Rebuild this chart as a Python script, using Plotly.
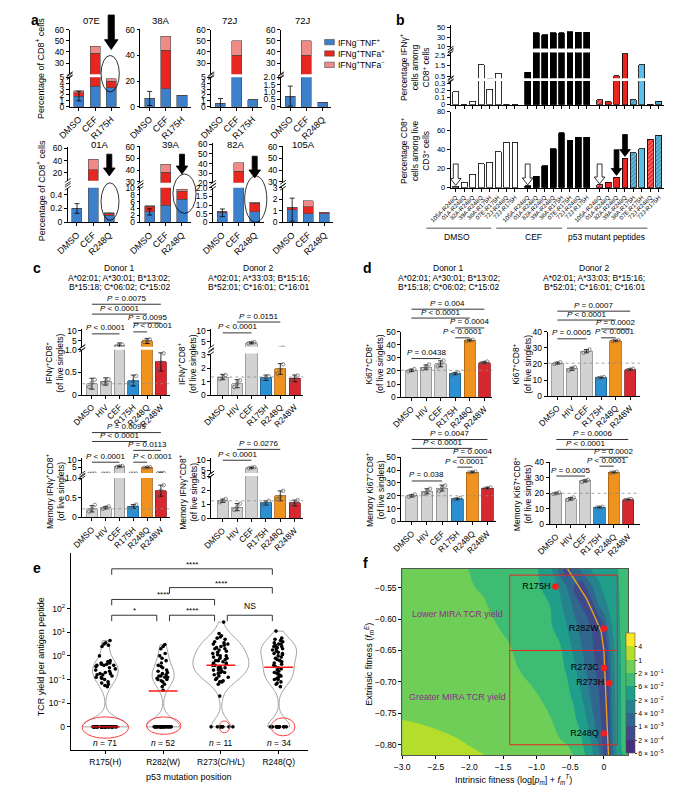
import math
import plotly.graph_objects as go

W, H = 685, 786
FONT = "Liberation Sans, Arial, Helvetica, sans-serif"

# ============================ DATA ============================
# ---- panel a : percentage of CD8+ cells, stacked by cytokine profile ----
a_titles = ["07E", "38A", "72J", "72J", "01A", "39A", "82A", "105A"]
a_cats = [["DMSO", "CEF", "R175H"]] * 3 + [["DMSO", "CEF", "R248Q"]] * 5
a_ifng_neg_tnf_pos = [[1.8, 3.5, 3.2], [6.5, 14, 9], [0.6, 6, 1.2], [0.72, 3, 0.32],
                      [0.2, 3, 0.1], [3.0, 5.0, 6.7], [0.55, 5, 0.6], [1.1, 0.75, 0.75]]
a_ifng_pos_tnf_pos = [[0.6, 35.5, 1.1], [0, 30, 0], [0, 31, 0], [0, 34, 0],
                      [0, 22, 0.03], [1.6, 33, 2.3], [0.05, 27, 0.5], [0.15, 0.6, 0.07]]
a_ifng_pos_tnf_neg = [[0.3, 6, 0.4], [0, 11, 0], [0, 13, 0], [0, 13, 0],
                      [0, 17, 0.01], [0.2, 7, 0.6], [0.02, 9, 0.05], [0.05, 0.5, 0.05]]
a_dmso_err = [0.8, 5.5, 0.8, 0.68, 0.07, 0.9, 0.22, 1.0]
a_legend = ["IFNg<sup>−</sup>TNF<sup>+</sup>", "IFNg<sup>+</sup>TNFa<sup>+</sup>",
            "IFNg<sup>+</sup>TNFa<sup>−</sup>"]

# ---- panel b ----
b_labels = ["105A-R248Q", "01A-R248Q", "82A-R248Q", "39A-R248Q",
            "38A-R175H", "07E-R175H", "72J-R248Q", "72J-R175H"]
b_groups = ["DMSO", "CEF", "p53 mutant peptides"]
b_ifng_dmso = [0.18, 0.0, 0.05, 1.6, 0.22, 0.8, 0.005, 0.005]
b_ifng_cef = [0.9, 40, 35, 40, 40, 42, 41, 41]
b_ifng_p53 = [0.07, 0.04, 0.55, 2.7, 0.07, 1.6, 0.005, 0.05]
b_cd8_dmso = [1.5, 6, 14, 25, 27, 38, 48, 48]
b_cd8_cef = [2, 12, 23, 41, 58, 50, 53, 53]
b_cd8_p53 = [3, 6, 11, 31, 37, 41, 51, 55]
b_p53_colors = ["#e8251f", "#e8251f", "#e8251f", "#e8251f", "#5bbfea", "#5bbfea", "#e8251f", "#5bbfea"]
b_p53_hatched = [1, 0, 0, 0, 1, 0, 1, 1]

# ---- panels c, d ----
c_cats = ["DMSO", "HIV", "CEF", "R175H", "R248Q", "R248W"]
c_d1_ifng_mean = [0.25, 0.3, 2.7, 0.32, 4.9, 0.73]
c_d1_ifng_sd = [0.12, 0.08, 1.2, 0.12, 1.3, 0.2]
c_d1_ifng_pts = [[0.18, 0.27, 0.34], [0.26, 0.3, 0.35], [2.3, 2.6, 3.0], [0.25, 0.3, 0.42], [4.4, 5.0, 5.6], [0.55, 0.72, 0.92]]
c_d2_ifng_mean = [1.35, 0.85, 4.5, 1.3, 1.95, 1.25]
c_d2_ifng_sd = [0.2, 0.3, 0.4, 0.2, 0.4, 0.25]
c_d2_ifng_pts = [[1.2, 1.35, 1.5], [0.6, 0.85, 1.1], [4.2, 4.5, 4.8], [1.2, 1.3, 1.4], [1.6, 1.9, 2.3], [1.05, 1.25, 1.45]]
c_d1_mem_mean = [0.22, 0.25, 5.5, 0.28, 4.8, 0.68]
c_d1_mem_sd = [0.08, 0.03, 0.4, 0.05, 0.3, 0.14]
c_d1_mem_pts = [[0.15, 0.22, 0.32], [0.22, 0.25, 0.28], [5.2, 5.5, 5.8], [0.24, 0.28, 0.33], [4.6, 4.8, 5.0], [0.55, 0.68, 0.82]]
c_d2_mem_mean = [1.25, 0.8, 6.2, 1.1, 1.6, 1.1]
c_d2_mem_sd = [0.12, 0.25, 0.3, 0.15, 0.35, 0.2]
c_d2_mem_pts = [[1.15, 1.25, 1.38], [0.6, 0.8, 1.05], [5.9, 6.2, 6.5], [0.95, 1.1, 1.25], [1.35, 1.55, 1.95], [0.95, 1.1, 1.3]]
d_d1_ki67_mean = [20.5, 23, 25.5, 18, 43.5, 26.5]
d_d1_ki67_sd = [0.9, 1.7, 2.3, 0.8, 0.5, 0.6]
d_d1_ki67_pts = [[19.8, 20.5, 21.5], [21.5, 23, 25], [23.5, 25.5, 28], [17.2, 18, 18.8], [43, 43.5, 44], [26, 26.5, 27.2]]
d_d2_ki67_mean = [20.5, 17, 28, 11.5, 34.5, 16.5]
d_d2_ki67_sd = [0.5, 1.0, 1.0, 0.3, 0.3, 0.5]
d_d2_ki67_pts = [[20, 20.5, 21], [16, 17, 18], [27, 28, 29], [11.2, 11.5, 11.8], [34.2, 34.5, 34.8], [16, 16.5, 17]]
d_d1_mem_mean = [20, 23.5, 26, 17.5, 38.5, 26]
d_d1_mem_sd = [0.9, 2.0, 2.3, 0.6, 0.3, 0.5]
d_d1_mem_pts = [[19.3, 20, 21], [21.5, 23.5, 25.5], [23.5, 26, 28], [17, 17.5, 18.2], [38.2, 38.5, 38.8], [25.5, 26, 26.5]]
d_d2_mem_mean = [20, 16.5, 28, 11, 33.5, 16]
d_d2_mem_sd = [0.4, 0.8, 0.7, 0.3, 0.3, 0.3]
d_d2_mem_pts = [[19.6, 20, 20.5], [15.8, 16.5, 17.3], [27.3, 28, 28.6], [10.8, 11, 11.3], [33.2, 33.5, 33.8], [15.7, 16, 16.3]]
# comparisons: (group i, group j, P text)
c_d1_ifng_p = [(0, 5, "= 0.0075"), (0, 4, "< 0.0001"), (3, 5, "= 0.0095"), (0, 2, "< 0.0001"), (3, 4, "< 0.0001")]
c_d2_ifng_p = [(1, 4, "= 0.0151"), (0, 2, "< 0.0001")]
c_d1_mem_p = [(0, 5, "= 0.0099"), (0, 4, "< 0.0001"), (3, 5, "= 0.0113"), (0, 2, "< 0.0001"), (3, 4, "< 0.0001")]
c_d2_mem_p = [(1, 4, "= 0.0276"), (0, 2, "< 0.0001")]
d_d1_ki67_p = [(0, 5, "= 0.004"), (0, 4, "< 0.0001"), (3, 5, "= 0.0004"), (3, 4, "< 0.0001"), (0, 2, "= 0.0438")]
d_d2_ki67_p = [(0, 5, "= 0.0007"), (0, 4, "< 0.0001"), (3, 5, "= 0.0002"), (0, 2, "= 0.0005"), (3, 4, "< 0.0001")]
d_d1_mem_p = [(0, 5, "= 0.0047"), (0, 4, "< 0.0001"), (3, 5, "= 0.0004"), (3, 4, "< 0.0001"), (0, 2, "= 0.038")]
d_d2_mem_p = [(0, 5, "= 0.0006"), (0, 4, "< 0.0001"), (3, 5, "= 0.0002"), (3, 4, "< 0.0001"), (0, 2, "= 0.0005")]
donor_hla = {"Donor 1": ["A*02:01; A*30:01; B*13:02;", "B*15:18; C*06:02; C*15:02"],
             "Donor 2": ["A*02:01; A*33:03; B*15:16;", "B*52:01; C*16:01; C*16:01"]}

# ---- panel e : TCR yield per antigen peptide (log10 of nonzero values; zeros counted) ----
e_cats = ["R175(H)", "R282(W)", "R273(C/H/L)", "R248(Q)"]
e_n = [71, 52, 11, 34]
e_log_r175 = [0.65, 0.55, 0.5, 0.45, 0.4, 0.0, -0.2, -0.25, -0.3, -0.3, -0.35, -0.35, -0.4, -0.4, -0.4,
              -0.45, -0.5, -0.55, -0.6, -0.65, -0.7, -0.75, -0.75, -0.8, -0.8, -0.85, -0.9, -0.9, -0.95,
              -1.0, -1.1, -1.15, -1.2, -1.25, -1.3]
e_log_r282 = [0.48, 0.4, 0.3, 0.1, 0.0, -0.1, -0.2, -0.3, -0.4, -0.45, -0.5, -0.6, -0.65, -0.7, -0.75,
              -0.8, -0.85, -0.85, -0.9, -0.9, -0.95, -1.0, -1.0, -1.05, -1.1, -1.2, -1.3, -1.45]
e_log_r273 = [1.43, 0.95, 0.85, 0.8, 0.75, 0.7, 0.6, 0.55, 0.5, 0.5, 0.45, 0.4, 0.35, 0.3, 0.3, 0.25,
              0.2, 0.15, 0.1, 0.05, 0.0, 0.0, -0.05, -0.1, -0.1, -0.15, -0.2, -0.2, -0.25, -0.3, -0.3,
              -0.35, -0.4, -0.4, -0.45, -0.5, -0.5, -0.55, -0.6, -0.6, -0.65, -0.7, -0.7, -0.75, -0.8,
              -0.85, -0.9, -0.95, -1.0, -1.05, -1.1, -1.1, -1.2, -1.7]
e_log_r248 = [1.05, 0.75, 0.7, 0.65, 0.6, 0.55, 0.5, 0.5, 0.45, 0.4, 0.4, 0.35, 0.3, 0.3, 0.25, 0.2,
              0.15, 0.1, 0.1, 0.05, 0.0, -0.05, -0.1, -0.15, -0.2, -0.25, -0.3, -0.35, -0.4, -0.45,
              -0.5, -0.55, -0.6, -0.65, -0.7, -0.75, -0.8, -0.85, -0.9, -0.95, -1.0, -1.0, -1.1,
              -1.15, -1.2, -1.3]
e_zero_counts = [36, 24, 8, 12]
e_medians = [0, 0.033, 0.4, 0.33]
e_tests = [(0, 3, "****"), (1, 3, "****"), (0, 2, "****"), (0, 1, "*"), (1, 2, "****"), (2, 3, "NS")]

# ---- panel f : distance to Pareto front (band index: 0 = 6e-5 ... 8 = 4) ----
f_grid_x = [-3.0, -2.6, -2.2, -1.8, -1.4, -1.0, -0.8, -0.65, -0.55, -0.45, -0.34, -0.2, -0.07,
            0.0, 0.035, 0.07, 0.12, 0.18, 0.26, 0.36]
f_grid_y = [-0.82, -0.80, -0.76, -0.72, -0.68, -0.64, -0.61, -0.58, -0.55, -0.52]
f_level = [
    [7.5, 7.35, 7.2, 7.04, 6.75, 6.44, 6.28, 6.16, 6.09, 6.01, 5.49, 4.57, 3.22, 2.0, 1.4, 1.2, 2.33, 3.8, 4.88, 5.3],
    [7.4, 7.25, 7.08, 6.89, 6.61, 6.33, 6.18, 6.08, 6.01, 5.64, 5.2, 4.18, 2.83, 1.64, 1.3, 1.2, 2.67, 4.0, 5.0, 5.4],
    [7.0, 6.9, 6.8, 6.6, 6.4, 6.2, 6.05, 5.73, 5.46, 5.19, 4.69, 3.55, 2.3, 1.5, 1.25, 1.3, 3.0, 4.11, 5.0, 5.4],
    [6.75, 6.7, 6.65, 6.5, 6.25, 6.03, 5.67, 5.37, 5.16, 4.86, 4.07, 2.93, 2.0, 1.4, 1.2, 1.6, 3.2, 4.22, 5.05, 5.4],
    [6.6, 6.55, 6.5, 6.4, 6.15, 5.71, 5.39, 5.15, 4.93, 4.27, 3.46, 2.56, 1.63, 1.25, 1.25, 2.0, 3.4, 4.3, 5.05, 5.4],
    [6.5, 6.4, 6.4, 6.3, 6.0, 5.47, 5.2, 5.0, 4.38, 3.73, 3.0, 2.3, 1.4, 1.2, 1.6, 2.67, 3.67, 4.4, 5.1, 5.45],
    [6.45, 6.35, 6.3, 6.2, 5.83, 5.34, 5.1, 4.59, 4.0, 3.33, 2.7, 2.0, 1.2, 2.0, 2.88, 3.38, 4.0, 4.55, 5.15, 5.45],
    [6.4, 6.3, 6.2, 6.08, 5.67, 5.23, 5.01, 4.22, 3.57, 2.86, 2.07, 1.2, 3.0, 3.58, 3.88, 4.12, 4.41, 4.76, 5.1, 5.4],
    [6.35, 6.25, 6.15, 5.94, 5.54, 5.14, 4.7, 3.83, 3.0, 2.0, 1.2, 2.7, 3.85, 4.19, 4.31, 4.44, 4.63, 4.85, 5.1, 5.35],
    [6.3, 6.2, 6.1, 5.88, 5.4, 5.08, 4.25, 2.5, 1.2, 2.3, 3.3, 4.02, 4.33, 4.5, 4.58, 4.67, 4.79, 4.93, 5.1, 5.3],
]
f_level_labels = ["6 × 10<sup>−5</sup>", "2 × 10<sup>−4</sup>", "1 × 10<sup>−3</sup>", "4 × 10<sup>−3</sup>",
                  "2 × 10<sup>−2</sup>", "6 × 10<sup>−2</sup>", "2 × 10<sup>−1</sup>", "1", "4"]
f_band_colors = ["#46307e", "#3e4a89", "#31678e", "#25838e", "#1f9e89", "#3fbc73", "#6ece58", "#b5de2b", "#fde725"]
f_front_x = [-0.57, -0.42, -0.26, -0.12, -0.04, 0.0, 0.03, 0.07]
f_front_y = [-0.515, -0.54, -0.567, -0.6, -0.62, -0.65, -0.72, -0.82]
f_mut = ["R175H", "R282W", "R273C", "R273H", "R248Q"]
f_mut_x = [-0.72, 0.0, 0.0, 0.08, 0.0]
f_mut_y = [-0.548, -0.615, -0.678, -0.702, -0.782]
f_box_x = [-1.4, 0.2]
f_box_y = [-0.80, -0.65, -0.53]

# ============================ HELPERS ============================
layout = dict(width=W, height=H, autosize=False, margin=dict(l=0, r=0, t=0, b=0),
              paper_bgcolor="white", plot_bgcolor="rgba(0,0,0,0)",
              font=dict(family=FONT, size=8, color="black"),
              showlegend=False, barmode="stack", violinmode="overlay")
shapes, annotations, traces = [], [], []
counter = {"x": 0, "y": 0}
AXBASE = dict(showgrid=False, zeroline=False, showline=True, linecolor="black", linewidth=0.8,
              ticks="outside", ticklen=3, tickwidth=0.8, tickcolor="black",
              tickfont=dict(family=FONT, size=8.5, color="black"))


def new_axis(kind, dom, rng, **kw):
    counter[kind] += 1
    k = counter[kind]
    suf = "" if k == 1 else str(k)
    ax = dict(AXBASE)
    ax.update(domain=dom, range=rng)
    ax.update(kw)
    layout[kind + "axis" + suf] = ax
    return kind + suf, kind + "axis" + suf


def XA(x0, x1, rng, **kw):
    return new_axis("x", [x0 / W, x1 / W], rng, **kw)


def YA(top, bot, rng, **kw):
    return new_axis("y", [1 - bot / H, 1 - top / H], rng, **kw)


def fy(y):
    return 1 - y / H


def fx(x):
    return x / W


def pann(x, y, text, size=8, **kw):
    col = kw.pop("color", "black")
    d = dict(x=fx(x), y=fy(y), xref="paper", yref="paper", text=text, showarrow=False,
             xanchor="center", yanchor="middle", borderpad=0,
             font=dict(family=FONT, size=size, color=col))
    d.update(kw)
    annotations.append(d)


def ttext(vals):
    if all(float(v).is_integer() for v in vals):
        return [str(int(v)) for v in vals]
    return ["0" if v == 0 else f"{v:.1f}" for v in vals]


def arrow_px(xc, tail, tip, hs, hh, hl, fill):
    yb = tip - hl
    pts = [(xc - hs, tail), (xc + hs, tail), (xc + hs, yb), (xc + hh, yb), (xc, tip),
           (xc - hh, yb), (xc - hs, yb)]
    path = "M " + " L ".join(f"{fx(x):.5f},{fy(y):.5f}" for x, y in pts) + " Z"
    shapes.append(dict(type="path", xref="paper", yref="paper", path=path, fillcolor=fill,
                       line=dict(color="black", width=0.8), layer="above"))


def break_marks(xpx, ypx):
    for dy in (-1.5, 1.5):
        shapes.append(dict(type="line", xref="paper", yref="paper", x0=fx(xpx - 3), x1=fx(xpx + 3),
                           y0=fy(ypx + dy + 2), y1=fy(ypx + dy - 2), line=dict(color="black", width=0.8)))


# ============================ PANEL a ============================
A_COLORS = ["#3c7fca", "#e6261f", "#f08a86"]
a_x0 = [42, 115, 188, 260, 40, 115, 190, 262]
A_W = 52
A_RNG = [-0.57, 2.55]
a_seg_bot = [(65, 95, [0, 5], [0, 1, 2, 3, 4, 5]), (17, 95, [0, 60], [0, 20, 40, 60]),
             (65, 95, [0, 5], [0, 1, 2, 3, 4, 5]), (65, 95, [0, 2], [0, 0.5, 1, 1.5, 2]),
             (177, 212, [0, 0.5], [0, 0.2, 0.4]), (177, 212, [0, 10], [0, 2, 4, 6, 8, 10]),
             (177, 212, [0, 2], [0, 0.5, 1, 1.5, 2]), (177, 212, [0, 3], [0, 1, 2, 3])]
a_seg_top = [(17, 62, [20, 60], [30, 40, 50, 60]), None, (17, 62, [20, 60], [30, 40, 50, 60]),
             (17, 62, [20, 60], [30, 40, 50, 60]), (136, 170, [7, 61.6], [20, 40, 60]),
             (135, 172, [29, 60.5], [30, 40, 50, 60]), (132, 172, [20, 61], [20, 30, 40, 50, 60]),
             (135, 172, [29, 60.5], [30, 40, 50, 60])]
a_title_xy = [(64, 8), (136, 8), (207, 8), (283, 8), (73, 133), (146, 133), (214, 133), (283, 133)]


def a_xpx(p, v):
    return a_x0[p] + (v - A_RNG[0]) / (A_RNG[1] - A_RNG[0]) * A_W


for p in range(8):
    x0 = a_x0[p]
    xr, xk = XA(x0, x0 + A_W, A_RNG, tickvals=[0, 1, 2], ticktext=a_cats[p], tickangle=-45,
                tickfont=dict(family=FONT, size=9, color="black"))
    b = a_seg_bot[p]
    yr, yk = YA(b[0], b[1], b[2], tickvals=b[3], ticktext=ttext(b[3]), anchor=xr)
    layout[xk]["anchor"] = yr
    segs = [yr]
    t = a_seg_top[p]
    if t:
        yr2, _ = YA(t[0], t[1], t[2], tickvals=t[3], ticktext=ttext(t[3]), anchor=xr)
        segs.append(yr2)
        break_marks(x0, t[1] + 1)
        break_marks(x0, b[0] - 1)
    for yref in segs:
        for vals, col in ((a_ifng_neg_tnf_pos[p], A_COLORS[0]), (a_ifng_pos_tnf_pos[p], A_COLORS[1]),
                          (a_ifng_pos_tnf_neg[p], A_COLORS[2])):
            traces.append(go.Bar(x=[0, 1, 2], y=vals, width=0.62, xaxis=xr, yaxis=yref,
                                 marker=dict(color=col, line=dict(color="#4a4a4a", width=0.6))))
    traces.append(go.Scatter(x=[0], y=[a_ifng_neg_tnf_pos[p][0]], mode="markers", xaxis=xr, yaxis=segs[0],
                             marker=dict(size=1, color="rgba(0,0,0,0)"),
                             error_y=dict(type="data", array=[a_dmso_err[p]], color="black",
                                          thickness=0.8, width=2.5)))
    pann(a_title_xy[p][0], a_title_xy[p][1], a_titles[p], 9.5)

# arrows and ellipses
for p, tail, tip in [(0, 2, 37), (4, 143, 165), (5, 143, 163), (6, 145, 167)]:
    big = p == 0
    arrow_px(a_xpx(p, 2), tail, tip, 3.2 if big else 2.6, 7 if big else 6, 10 if big else 8, "black")
for p, u0, u1, t0, t1 in [(0, 1.37, 2.5, 43, 80), (4, 1.49, 2.6, 172, 210), (5, 1.44, 2.87, 163, 203),
                          (6, 1.38, 2.75, 165, 212)]:
    shapes.append(dict(type="circle", xref="paper", yref="paper", x0=fx(a_xpx(p, u0)), x1=fx(a_xpx(p, u1)),
                       y0=fy(t1), y1=fy(t0), line=dict(color="black", width=0.8)))
# y titles
pann(12, 56, "Percentage of CD8<sup>+</sup> cells", 9, textangle=-90)
pann(12, 180, "Percentage of CD8<sup>+</sup> cells", 9, textangle=-90)
# legend
for k, (lab, col) in enumerate(zip(a_legend, A_COLORS)):
    yc = 29.5 + k * 11.5
    shapes.append(dict(type="rect", xref="paper", yref="paper", x0=fx(305), x1=fx(315), y0=fy(yc + 2.7),
                       y1=fy(yc - 2.7), fillcolor=col, line=dict(color="#4a4a4a", width=0.6)))
    pann(318, yc, lab, 8.5, xanchor="left")

# ============================ PANEL b ============================
b_group_start = [0, 8.5, 17]
B_RNG = [-0.6, 24.6]
b_pos = [s + i for s in b_group_start for i in range(len(b_labels))]
b_fill = ["white"] * 8 + ["black"] * 8 + b_p53_colors
b_pat = [""] * 16 + ["/" if h else "" for h in b_p53_hatched]
xr_bt, xk_bt = XA(435, 655, B_RNG, tickvals=b_pos, showticklabels=False)
b_top_segs = [(69, 93, [0, 0.33], [0, 0.1, 0.2, 0.3]), (40, 66, [0.3, 2.8], [0.5, 1.5, 2.5]),
              (12, 36, [6.3, 56.3], [10, 30, 50])]
b_top_vals = b_ifng_dmso + b_ifng_cef + b_ifng_p53
for j, (t0, t1, rng, tv) in enumerate(b_top_segs):
    yr, yk = YA(t0, t1, rng, tickvals=tv, ticktext=ttext(tv), anchor=xr_bt,
                tickfont=dict(family=FONT, size=7.5, color="black"))
    if j == 0:
        layout[xk_bt]["anchor"] = yr
    else:
        break_marks(435, t1 + 1)
    if j < 2:
        break_marks(435, t0 - 1)
    traces.append(go.Bar(x=b_pos, y=b_top_vals, width=0.7, xaxis=xr_bt, yaxis=yr,
                         marker=dict(color=b_fill, line=dict(color="black", width=0.8),
                                     pattern=dict(shape=b_pat, fgcolor="#333333", size=3, solidity=0.35,
                                                  fillmode="overlay"))))
xr_bb, xk_bb = XA(435, 655, B_RNG, tickvals=b_pos, ticktext=b_labels * 3, tickangle=-45,
                  tickfont=dict(family=FONT, size=6, color="black"))
yr_bb, yk_bb = YA(100, 177, [0, 80], tickvals=[0, 20, 40, 60, 80], ticktext=ttext([0, 20, 40, 60, 80]),
                  anchor=xr_bb, tickfont=dict(family=FONT, size=7.5, color="black"))
layout[xk_bb]["anchor"] = yr_bb
traces.append(go.Bar(x=b_pos, y=b_cd8_dmso + b_cd8_cef + b_cd8_p53, width=0.7, xaxis=xr_bb, yaxis=yr_bb,
                     marker=dict(color=b_fill, line=dict(color="black", width=0.8),
                                 pattern=dict(shape=b_pat, fgcolor="#333333", size=3, solidity=0.35,
                                              fillmode="overlay"))))


def b_xpx(v):
    return 435 + (v - B_RNG[0]) / (B_RNG[1] - B_RNG[0]) * 220


def b_ypx(v):
    return 177 - v / 80 * 77


for s, vals in zip(b_group_start, (b_cd8_dmso, b_cd8_cef, b_cd8_p53)):
    arrow_px(b_xpx(s), b_ypx(25), b_ypx(vals[0] + 1.0), 2.5, 5.5, 7, "white")
for i, tail in ((2, 40), (3, 56)):
    v = b_cd8_p53[i]
    arrow_px(b_xpx(b_group_start[2] + i), b_ypx(tail), b_ypx(v + 2), 2.5, 5.5, 7, "black")
for lab, (l0, l1), tx in zip(b_groups, [(410, 477), (482, 550), (555, 638)], [442, 520, 596]):
    shapes.append(dict(type="line", xref="paper", yref="paper", x0=fx(l0), x1=fx(l1), y0=fy(218), y1=fy(218),
                       line=dict(color="#8c8c8c", width=1.5)))
    pann(tx, 227, lab, 8.5)
pann(398, 55, "Percentage IFNγ<sup>+</sup><br>cells among<br>CD8<sup>+</sup> cells", 8.5, textangle=-90)
pann(398, 139, "Percentage CD8<sup>+</sup><br>cells among live<br>CD3<sup>+</sup> cells", 8.5, textangle=-90)

# ============================ PANELS c, d ============================
C_FILL = ["#d2d2d2"] * 3 + ["#2b8fd1", "#f0921e", "#d7282f"]
C_EDGE = ["#8a8a8a"] * 3 + ["#1d5f8c", "#a65f10", "#8c1a1f"]
PT_OFF = [-0.2, 0.0, 0.2]
cd_specs = [
    dict(dom=(55, 145), rng=[-0.7, 5.63], segs=[(341, 387, [0, 1.0], [0, 0.5, 1.0]), (320, 338, [2, 11], [5, 10])],
         mean=c_d1_ifng_mean, sd=c_d1_ifng_sd, pts=c_d1_ifng_pts, p=c_d1_ifng_p,
         py=[295, 305, 314, 325, 323], pdx=[0, 0, 0, 0, 12],
         title="IFNγ<sup>+</sup>CD8<sup>+</sup><br>(of live singlets)", txy=(27, 355)),
    dict(dom=(188, 283), rng=[-0.8, 5.6], segs=[(345, 387, [0, 3.1], [0, 1, 2, 3]), (320, 338, [2.7, 10.9], [5, 10])],
         mean=c_d2_ifng_mean, sd=c_d2_ifng_sd, pts=c_d2_ifng_pts, p=c_d2_ifng_p,
         py=[313, 324], pdx=[0, 0],
         title="IFNγ<sup>+</sup>CD8<sup>+</sup><br>(of live singlets)", txy=(164, 355)),
    dict(dom=(55, 145), rng=[-0.7, 5.63], segs=[(471, 511, [0, 1.0], [0, 0.5, 1.0]), (451, 466, [0.7, 11.4], [5, 10])],
         mean=c_d1_mem_mean, sd=c_d1_mem_sd, pts=c_d1_mem_pts, p=c_d1_mem_p,
         py=[425, 434, 443, 455, 455], pdx=[0, 0, 0, 0, 12],
         title="Memory IFNγ<sup>+</sup>CD8<sup>+</sup><br>(of live singlets)", txy=(27, 485)),
    dict(dom=(188, 283), rng=[-0.8, 5.6], segs=[(469, 512, [0, 3], [0, 1, 2, 3]), (451, 466, [3.5, 11], [5, 10])],
         mean=c_d2_mem_mean, sd=c_d2_mem_sd, pts=c_d2_mem_pts, p=c_d2_mem_p,
         py=[442, 453], pdx=[0, 0],
         title="Memory IFNγ<sup>+</sup>CD8<sup>+</sup><br>(of live singlets)", txy=(164, 485)),
    dict(dom=(384, 478), rng=[-0.7, 5.55], segs=[(323, 389, [0, 50], [0, 10, 20, 30, 40, 50])],
         mean=d_d1_ki67_mean, sd=d_d1_ki67_sd, pts=d_d1_ki67_pts, p=d_d1_ki67_p,
         py=[300, 309, 319, 329, 350], pdx=[0, 0, 0, 0, 0],
         title="Ki67<sup>+</sup>CD8<sup>+</sup><br>(of live singlets)", txy=(357, 356)),
    dict(dom=(535, 630), rng=[-0.67, 5.65], segs=[(323, 388, [0, 40], [0, 10, 20, 30, 40])],
         mean=d_d2_ki67_mean, sd=d_d2_ki67_sd, pts=d_d2_ki67_pts, p=d_d2_ki67_p,
         py=[302, 311, 320, 330, 329], pdx=[0, 0, 0, 0, 6],
         title="Ki67<sup>+</sup>CD8<sup>+</sup><br>(of live singlets)", txy=(509, 356)),
    dict(dom=(384, 482), rng=[-0.7, 5.58], segs=[(450, 515, [0, 50], [0, 10, 20, 30, 40, 50])],
         mean=d_d1_mem_mean, sd=d_d1_mem_sd, pts=d_d1_mem_pts, p=d_d1_mem_p,
         py=[432, 441, 450, 460, 474], pdx=[0, 0, 0, 0, 0],
         title="Memory Ki67<sup>+</sup>CD8<sup>+</sup><br>(of live singlets)", txy=(357, 483)),
    dict(dom=(537, 630), rng=[-0.47, 5.8], segs=[(455, 518, [0, 40], [0, 10, 20, 30, 40])],
         mean=d_d2_mem_mean, sd=d_d2_mem_sd, pts=d_d2_mem_pts, p=d_d2_mem_p,
         py=[432, 442, 450, 459, 469], pdx=[0, 0, 0, 0, 0],
         title="Memory Ki67<sup>+</sup>CD8<sup>+</sup><br>(of live singlets)", txy=(509, 487)),
]
for spec in cd_specs:
    xr, xk = XA(spec["dom"][0], spec["dom"][1], spec["rng"], tickvals=list(range(6)), ticktext=c_cats,
                tickangle=-45, tickfont=dict(family=FONT, size=8.5, color="black"))
    yrefs = []
    for j, (t0, t1, rng, tv) in enumerate(spec["segs"]):
        yr, yk = YA(t0, t1, rng, tickvals=tv, ticktext=ttext(tv), anchor=xr)
        if j == 0:
            layout[xk]["anchor"] = yr
        else:
            break_marks(spec["dom"][0], t1 + 1.5)
            break_marks(spec["dom"][0], spec["segs"][0][0] - 1.5)
        yrefs.append(yr)
    ptx, pty = [], []
    for i, trip in enumerate(spec["pts"]):
        for off, v in zip(PT_OFF, trip):
            ptx.append(i + off)
            pty.append(v)
    for yr in yrefs:
        traces.append(go.Bar(x=list(range(6)), y=spec["mean"], width=0.78, xaxis=xr, yaxis=yr,
                             marker=dict(color=C_FILL, line=dict(color=C_EDGE, width=0.8))))
        traces.append(go.Scatter(x=list(range(6)), y=spec["mean"], mode="markers", xaxis=xr, yaxis=yr,
                                 marker=dict(size=1, color="rgba(0,0,0,0)"),
                                 error_y=dict(type="data", array=spec["sd"], color="black", thickness=0.8,
                                              width=2.5)))
        traces.append(go.Scatter(x=ptx, y=pty, mode="markers", xaxis=xr, yaxis=yr,
                                 marker=dict(symbol="circle-open", size=3.5, color="#5a5a5a",
                                             line=dict(width=0.7))))
    shapes.append(dict(type="line", xref=xr + " domain", yref=yrefs[0], x0=0, x1=1, y0=spec["mean"][0],
                       y1=spec["mean"][0], line=dict(color="#8c8c8c", width=0.8, dash="dot")))
    for (i0, i1, txt), ypx, dx in zip(spec["p"], spec["py"], spec["pdx"]):
        shapes.append(dict(type="line", xref=xr, yref="paper", x0=i0, x1=i1, y0=fy(ypx), y1=fy(ypx),
                           line=dict(color="black", width=0.8)))
        annotations.append(dict(xref=xr, yref="paper", x=(i0 + i1) / 2, y=fy(ypx - 0.5), xshift=dx,
                                text=f"<i>P</i> {txt}", showarrow=False, xanchor="center", yanchor="bottom",
                                font=dict(family=FONT, size=8, color="black"), borderpad=0))
    pann(spec["txy"][0], spec["txy"][1], spec["title"], 8.5, textangle=-90)

for name, xc in (("Donor 1", 93), ("Donor 2", 237), ("Donor 1", 433), ("Donor 2", 583)):
    pann(xc, 258, name, 8.5)
    pann(xc, 268, donor_hla[name][0], 8.5)
    pann(xc, 278, donor_hla[name][1], 8.5)

# ============================ PANEL e ============================
ZERO_POS = -3
xr_e, xk_e = XA(43, 288, [-0.6, 3.51], tickvals=[0, 1, 2, 3], ticktext=e_cats,
                tickfont=dict(family=FONT, size=8.5, color="black"))
yr_e, yk_e = YA(547, 747, [-4, 4.35], tickvals=[-3, -2, -1, 0, 1, 2],
                ticktext=["0", "10<sup>−2</sup>", "10<sup>−1</sup>", "10<sup>0</sup>", "10<sup>1</sup>",
                          "10<sup>2</sup>"], anchor=xr_e, tickfont=dict(family=FONT, size=8.5, color="black"))
layout[xk_e]["anchor"] = yr_e
e_width = [0.8, 0.58, 0.97, 0.62]
for i, logs in enumerate((e_log_r175, e_log_r282, e_log_r273, e_log_r248)):
    ys = logs + [ZERO_POS] * e_zero_counts[i]
    traces.append(go.Violin(x=[i] * len(ys), y=ys, xaxis=xr_e, yaxis=yr_e, width=e_width[i],
                            spanmode="hard", bandwidth=0.33, points="all", pointpos=0, jitter=0.55,
                            scalemode="width", marker=dict(color="black", size=3.6, line=dict(width=0)),
                            line=dict(color="#9a9a9a", width=0.9), fillcolor="rgba(0,0,0,0)",
                            box=dict(visible=False), meanline=dict(visible=False)))
for i, m in enumerate(e_medians):
    yv = math.log10(m) if m > 0 else ZERO_POS
    traces.append(go.Scatter(x=[i - 0.25, i + 0.25], y=[yv, yv], mode="lines", xaxis=xr_e, yaxis=yr_e,
                             line=dict(color="#ff1a1a", width=1.4)))
for (u0, u1, v0, v1) in [(-0.40, 0.40, -3.48, -2.58), (0.71, 1.31, -3.32, -2.58), (1.97, 2.15, -3.25, -2.75),
                         (2.87, 3.28, -3.38, -2.62)]:
    shapes.append(dict(type="circle", xref=xr_e, yref=yr_e, x0=u0, x1=u1, y0=v0, y1=v1,
                       line=dict(color="#ff2a2a", width=0.9)))
for (i0, i1, txt), ypx in zip(e_tests, [563, 582, 594, 610, 610, 610]):
    xa, xb = i0 + 0.11, i1 - 0.11
    shapes.append(dict(type="path", xref=xr_e, yref="paper",
                       path=f"M {xa},{fy(ypx + 6)} L {xa},{fy(ypx)} L {xb},{fy(ypx)} L {xb},{fy(ypx + 6)}",
                       line=dict(color="black", width=0.8)))
    annotations.append(dict(xref=xr_e, yref="paper", x=(xa + xb) / 2, y=fy(ypx - (3 if txt == "NS" else -1)),
                            text=txt, showarrow=False, xanchor="center", yanchor="bottom", borderpad=0,
                            font=dict(family=FONT, size=8.5 if txt == "NS" else 8, color="black")))
for i, n in enumerate(e_n):
    annotations.append(dict(xref=xr_e, yref="paper", x=i, y=fy(739), text=f"<i>n</i> = {n}", showarrow=False,
                            xanchor="center", yanchor="middle",
                            font=dict(family=FONT, size=8.5, color="black")))
pann(165, 774, "p53 mutation position", 9)
pann(12, 652, "TCR yield per antigen peptide", 9, textangle=-90)

# ============================ PANEL f ============================
xr_f, xk_f = XA(385, 618, [-3.0, 0.36], tickvals=[-3, -2.5, -2, -1.5, -1, -0.5, 0],
                ticktext=["−3.0", "−2.5", "−2.0", "−1.5", "−1.0", "−0.5", "0"], mirror=True,
                linecolor="#555", tickfont=dict(family=FONT, size=8.5, color="black"))
yr_f, yk_f = YA(563, 752, [-0.817, -0.52], tickvals=[-0.55, -0.6, -0.65, -0.7, -0.75, -0.8],
                ticktext=["−0.55", "−0.60", "−0.65", "−0.70", "−0.75", "−0.80"], mirror=True,
                linecolor="#555", anchor=xr_f, tickfont=dict(family=FONT, size=8.5, color="black"))
layout[xk_f]["anchor"] = yr_f
nb = len(f_band_colors)
cscale = []
for k, c in enumerate(f_band_colors):
    cscale += [[k / nb, c], [(k + 1) / nb, c]]
traces.append(go.Contour(x=f_grid_x, y=f_grid_y, z=f_level, xaxis=xr_f, yaxis=yr_f, zmin=0, zmax=nb,
                         contours=dict(start=0, end=nb, size=1, coloring="fill", showlines=False),
                         colorscale=cscale, line=dict(width=0),
                         colorbar=dict(x=616 / W, xanchor="left", y=1 - 750 / H, yanchor="bottom",
                                       len=122 / H, lenmode="fraction", thickness=9, xpad=0, ypad=0,
                                       tickvals=list(range(len(f_level_labels))), ticktext=f_level_labels,
                                       ticks="outside", ticklen=2, outlinewidth=0.6, outlinecolor="#555",
                                       tickfont=dict(family=FONT, size=7, color="black"))))
traces.append(go.Scatter(x=f_front_x, y=f_front_y, mode="lines", xaxis=xr_f, yaxis=yr_f,
                         line=dict(color="#f5a31a", width=1.3)))
traces.append(go.Scatter(x=f_mut_x, y=f_mut_y, mode="markers+text", text=f_mut, textposition="middle left",
                         xaxis=xr_f, yaxis=yr_f, marker=dict(color="#ff1a1a", size=6.5),
                         textfont=dict(family=FONT, size=9, color="black")))
shapes.append(dict(type="rect", xref=xr_f, yref=yr_f, x0=f_box_x[0], x1=f_box_x[1], y0=f_box_y[0],
                   y1=f_box_y[2], line=dict(color="#e8251f", width=1)))
shapes.append(dict(type="line", xref=xr_f, yref=yr_f, x0=f_box_x[0], x1=f_box_x[1], y0=f_box_y[1],
                   y1=f_box_y[1], line=dict(color="#e8251f", width=1)))
annotations.append(dict(xref=xr_f, yref=yr_f, x=-2.17, y=-0.592, text="Lower MIRA TCR yield", showarrow=False,
                        xanchor="center", font=dict(family=FONT, size=9, color="#8e2c8e")))
annotations.append(dict(xref=xr_f, yref=yr_f, x=-2.17, y=-0.724, text="Greater MIRA TCR yield",
                        showarrow=False, xanchor="center", font=dict(family=FONT, size=9, color="#8e2c8e")))
pann(500, 776, "Intrinsic fitness (log[<i>p</i><sub><i>m</i></sub>] + <i>f</i><sub><i>m</i></sub><sup><i>T</i></sup>)", 9)
pann(351, 660, "Extrinsic fitness (<i>f</i><sub><i>m</i></sub><sup><i>E</i></sup>)", 9, textangle=-90)
pann(673, 689, "Distance to Pareto front", 8, textangle=-90)

# ============================ panel letters ============================
for lab, x, y in (("a", 6, 7), ("b", 383, 7), ("c", 8, 258), ("d", 349, 258), ("e", 8, 562), ("f", 347, 557)):
    pann(x, y, f"<b>{lab}</b>", 14)

layout["shapes"] = shapes
layout["annotations"] = annotations
fig = go.Figure(data=traces, layout=layout)
fig.write_html("out.html")
